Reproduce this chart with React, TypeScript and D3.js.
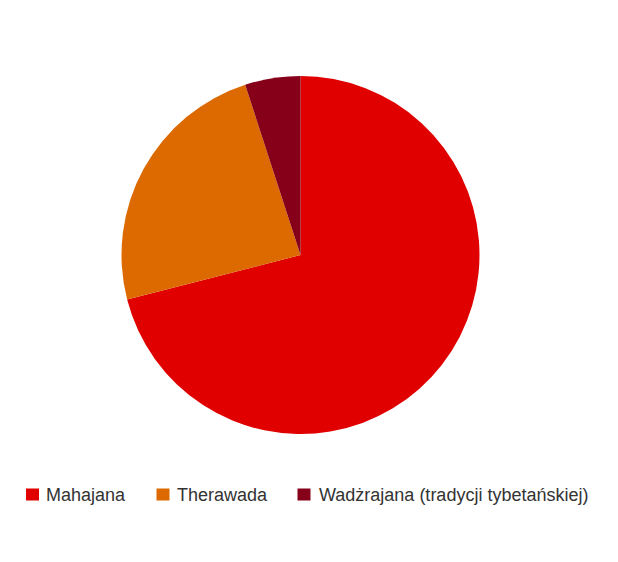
import * as d3 from 'd3';

const categories = ['Mahajana', 'Therawada', 'Wadżrajana (tradycji tybetańskiej)'];
const values = [71, 24, 5];
const colors = ['#e00000', '#dd6a00', '#86001a'];
// legend square and label x positions
const legendX = [26, 156.5, 297.5];
const labelX = [46, 177, 319];

export default function App() {
  const width = 618;
  const height = 562;
  const cx = 300.5;
  const cy = 255;
  const radius = 179;

  const pie = d3.pie<number>().sort(null).value(d => d);
  const arcs = pie(values);
  const arc = d3.arc<d3.PieArcDatum<number>>().innerRadius(0).outerRadius(radius);

  return (
    <svg
      width={width}
      height={height}
      style={{ position: 'absolute', left: 0, top: 0, background: '#fff' }}
      fontFamily="'Liberation Sans', Arial, sans-serif"
    >
      <g transform={`translate(${cx},${cy})`}>
        {arcs.map((a, i) => (
          <path key={i} d={arc(a) || ''} fill={colors[i]} />
        ))}
      </g>
      <g>
        {categories.map((c, i) => (
          <g key={c}>
            <rect x={legendX[i]} y={488.5} width={13} height={12} fill={colors[i]} />
            <text x={labelX[i]} y={500.7} fontSize={18} fill="#333">
              {c}
            </text>
          </g>
        ))}
      </g>
    </svg>
  );
}
